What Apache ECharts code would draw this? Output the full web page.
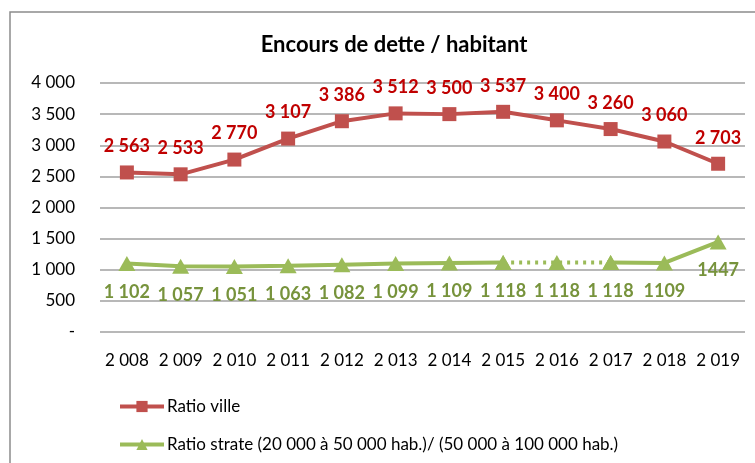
<!DOCTYPE html>
<html>
<head>
<meta charset="utf-8">
<script src="https://cdn.jsdelivr.net/npm/echarts@6/dist/echarts.min.js"></script>
<style>
  html, body { margin: 0; padding: 0; background: #fff; }
  #chart { width: 755px; height: 463px; }
</style>
</head>
<body>
<div id="chart"></div>
<script>
// années (libellés de l'axe)
const years = ['2 008', '2 009', '2 010', '2 011', '2 012', '2 013', '2 014', '2 015', '2 016', '2 017', '2 018', '2 019']

// ratio ville
const ville = [2563, 2533, 2770, 3107, 3386, 3512, 3500, 3537, 3400, 3260, 3060, 2703]

// ratio strate
const strate = [1102, 1057, 1051, 1063, 1082, 1099, 1109, 1118, 1118, 1118, 1109, 1447]
const strateLabels = ['1 102', '1 057', '1 051', '1 063', '1 082', '1 099', '1 109', '1 118', '1 118', '1 118', '1109', '1447']

// partie en pointillés (2015 -> 2017)
const dotFrom = 7
const dotTo = 9

const fmt = v => (v === 0 ? '-' : String(v).replace(/\B(?=(\d{3})+(?!\d))/g, ' '))

const solidStrate = strate.map((v, i) => (i > dotFrom && i < dotTo ? null : v))
const dottedStrate = strate.map((v, i) => (i >= dotFrom && i <= dotTo ? v : null))

const font = 'Lato, "Open Sans", sans-serif'
const red = '#C0504D'
const green = '#9BBB59'

const myChart = echarts.init(document.getElementById('chart'))
myChart.setOption({
  animation: false,
  textStyle: { fontFamily: font },
  title: {
    text: 'Encours de dette / habitant',
    left: 389,
    textAlign: 'center',
    top: 29,
    textStyle: { fontSize: 22, fontWeight: 'bold', color: '#000', fontFamily: font }
  },
  graphic: [
    {
      type: 'rect',
      shape: { x: 10, y: 12, width: 800, height: 500 },
      style: { fill: 'none', stroke: '#8c8c8c', lineWidth: 1.5 },
      silent: true
    }
  ],
  legend: {
    data: ['Ratio ville', 'Ratio strate (20 000 à 50 000 hab.)/ (50 000 à 100 000 hab.)'],
    orient: 'vertical',
    left: 113,
    top: 393,
    itemWidth: 44,
    itemHeight: 14,
    itemGap: 21,
    lineStyle: { width: 4 },
    textStyle: { fontSize: 17, color: '#000', fontFamily: font, padding: [0, 0, 0, -2] }
  },
  grid: { left: 100, right: 10, top: 83, bottom: 131, containLabel: false },
  xAxis: {
    type: 'category',
    data: years,
    boundaryGap: true,
    axisLine: { show: false },
    axisTick: { show: false },
    axisLabel: { fontSize: 17, color: '#000', margin: 20, interval: 0 }
  },
  yAxis: {
    type: 'value',
    min: 0,
    max: 4000,
    interval: 500,
    axisLine: { show: false },
    axisTick: { show: false },
    axisLabel: { fontSize: 17, color: '#000', margin: 25, formatter: fmt },
    splitLine: { lineStyle: { color: '#a0a0a0', width: 1.5 } }
  },
  series: [
    {
      name: 'Ratio ville',
      type: 'line',
      data: ville,
      symbol: 'rect',
      symbolSize: 14,
      itemStyle: { color: red },
      lineStyle: { color: red, width: 4 },
      label: {
        show: true,
        position: 'top',
        distance: 10,
        fontSize: 18,
        fontWeight: 'bold',
        color: '#C00000',
        formatter: p => fmt(p.value)
      },
      z: 3
    },
    {
      name: 'Ratio strate (20 000 à 50 000 hab.)/ (50 000 à 100 000 hab.)',
      type: 'line',
      data: solidStrate,
      connectNulls: false,
      symbol: 'triangle',
      symbolSize: [17, 15],
      itemStyle: { color: green },
      lineStyle: { color: green, width: 4 },
      label: {
        show: true,
        position: 'bottom',
        distance: 12,
        fontSize: 18,
        fontWeight: 'bold',
        color: '#77933C',
        formatter: p => strateLabels[p.dataIndex]
      },
      z: 2
    },
    {
      name: 'strate pointillés',
      type: 'line',
      data: dottedStrate,
      symbol: 'triangle',
      symbolSize: [17, 15],
      itemStyle: { color: green },
      lineStyle: { color: green, width: 4, type: [3, 5] },
      label: {
        show: true,
        position: 'bottom',
        distance: 12,
        fontSize: 18,
        fontWeight: 'bold',
        color: '#77933C',
        formatter: p => (p.dataIndex > dotFrom && p.dataIndex < dotTo ? strateLabels[p.dataIndex] : '')
      },
      z: 2
    }
  ]
})
</script>
</body>
</html>
